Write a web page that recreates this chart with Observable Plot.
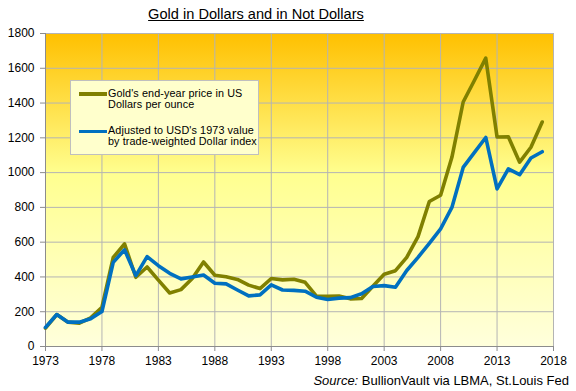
<!DOCTYPE html>
<html>
<head>
<meta charset="utf-8">
<script src="https://cdn.jsdelivr.net/npm/d3@7"></script>
<script src="https://cdn.jsdelivr.net/npm/@observablehq/plot@0.6"></script>
<style>
  html, body { margin: 0; padding: 0; background: #ffffff; }
  #wrap { position: relative; width: 576px; height: 391px; font-family: "Liberation Sans", Arial, sans-serif; color: #000; overflow: hidden; }
  #title { position: absolute; left: 0; width: 512px; top: 6px; text-align: center; font-size: 14.6px; line-height: 17px; text-decoration: underline; }
  #chart { position: absolute; left: 0; top: 0; }
  #legend { position: absolute; left: 70px; top: 80px; width: 187px; height: 73px; background: #FFFFCC; border: 1px solid #BFBFBF; }
  .sw { position: absolute; left: 8px; width: 28px; height: 3.5px; }
  .lt { position: absolute; left: 37px; font-size: 10.8px; line-height: 11px; white-space: nowrap; letter-spacing: 0.1px; }
  #source { position: absolute; right: 7px; top: 373px; font-size: 13px; line-height: 15px; white-space: nowrap; }
</style>
</head>
<body>
<div id="wrap">
  <div id="chart"></div>
  <div id="title">Gold in Dollars and in Not Dollars</div>
  <div id="legend">
    <div class="sw" style="top:11px;background:#808000"></div>
    <div class="lt" style="top:7px">Gold's end-year price in US<br>Dollars per ounce</div>
    <div class="sw" style="top:48.5px;background:#0070C0"></div>
    <div class="lt" style="top:44px">Adjusted to USD's 1973 value<br>by trade-weighted Dollar index</div>
  </div>
  <div id="source"><i>Source:</i> BullionVault via LBMA, St.Louis Fed</div>
</div>
<script>
const years = [1973,1974,1975,1976,1977,1978,1979,1980,1981,1982,1983,1984,1985,1986,1987,1988,1989,1990,1991,1992,1993,1994,1995,1996,1997,1998,1999,2000,2001,2002,2003,2004,2005,2006,2007,2008,2009,2010,2011,2012,2013,2014,2015,2016,2017];
const goldUSD = [106,184,140,134,165,226,512,590,398,457,382,308,327,391,486,410,401,386,353,333,391,383,387,369,290,288,290,274,276,347,416,436,513,632,834,870,1088,1406,1531,1658,1205,1206,1060,1146,1291];
const goldAdjusted = [110,184,140,140,159,201,484,556,408,517,465,421,389,400,411,364,360,325,291,297,354,325,323,318,283,270,278,281,303,345,350,341,437,513,593,676,800,1030,1116,1202,906,1021,988,1084,1120];
const xTicks = [1973,1978,1983,1988,1993,1998,2003,2008,2013,2018];
const yTicks = [0,200,400,600,800,1000,1200,1400,1600,1800];

const rows = years.map((y, i) => ({year: y, usd: goldUSD[i], adj: goldAdjusted[i]}));

const gridColor = "#B4B4B4";
const axisColor = "#8C8C8C";

const plot = Plot.plot({
  width: 576,
  height: 391,
  marginLeft: 45,
  marginRight: 23,
  marginTop: 33,
  marginBottom: 45,
  style: {fontFamily: "'Liberation Sans', Arial, sans-serif", fontSize: "12px", color: "#000", background: "transparent"},
  x: {domain: [1973, 2018], ticks: xTicks, tickFormat: d => String(d), tickSize: 5, tickPadding: 5, label: null},
  y: {domain: [0, 1800], ticks: yTicks, tickFormat: d => String(d), tickSize: 5, tickPadding: 6, label: null},
  marks: [
    Plot.frame({fill: "url(#bggrad)", stroke: gridColor}),
    Plot.gridX(xTicks, {stroke: gridColor, strokeOpacity: 1}),
    Plot.gridY(yTicks, {stroke: gridColor, strokeOpacity: 1}),
    Plot.ruleY([0], {stroke: axisColor}),
    Plot.ruleX([1973], {stroke: axisColor}),
    Plot.line(rows, {x: "year", y: "usd", stroke: "#808000", strokeWidth: 3.6, strokeLinejoin: "round"}),
    Plot.line(rows, {x: "year", y: "adj", stroke: "#0070C0", strokeWidth: 3.6, strokeLinejoin: "round"}),
    Plot.axisX({ticks: xTicks, tickFormat: d => String(d), stroke: axisColor, tickSize: 5, tickPadding: 5, fill: "#000"}),
    Plot.axisY({ticks: yTicks, tickFormat: d => String(d), stroke: axisColor, tickSize: 5, tickPadding: 6, fill: "#000"})
  ]
});

const svg = d3.select(plot);
const grad = svg.insert("defs", ":first-child").append("linearGradient")
  .attr("id", "bggrad").attr("x1", 0).attr("y1", 0).attr("x2", 0).attr("y2", 1);
grad.append("stop").attr("offset", "0%").attr("stop-color", "#FFC000");
grad.append("stop").attr("offset", "45%").attr("stop-color", "#FFFF90");
grad.append("stop").attr("offset", "100%").attr("stop-color", "#FFFFDC");

document.getElementById("chart").appendChild(plot);
</script>
</body>
</html>
